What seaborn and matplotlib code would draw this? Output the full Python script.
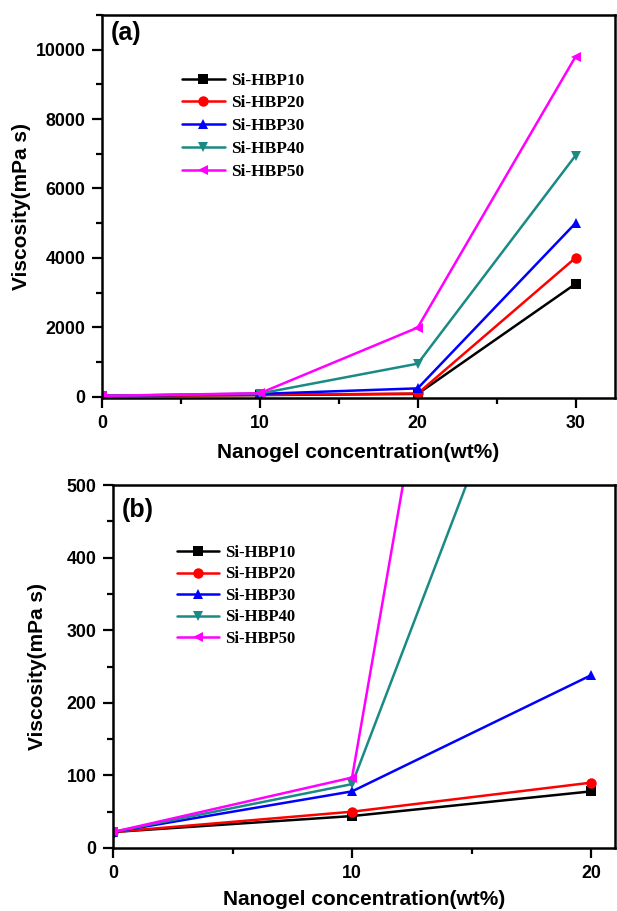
import matplotlib
matplotlib.use("Agg")
import matplotlib.pyplot as plt
import seaborn as sns
import pandas as pd
from matplotlib.ticker import MultipleLocator

# ---- data ----
conc_a = [0, 10, 20, 30]
si_hbp10_a = [22, 44, 78, 3250]
si_hbp20_a = [22, 50, 90, 4000]
si_hbp30_a = [22, 78, 238, 5000]
si_hbp40_a = [22, 88, 950, 6950]
si_hbp50_a = [22, 97, 1990, 9800]

conc_b = [0, 10, 20]
si_hbp10_b = [22, 44, 78]
si_hbp20_b = [22, 50, 90]
si_hbp30_b = [22, 78, 238]
si_hbp40_b = [22, 88, 950]
si_hbp50_b = [22, 97, 1990]

series_names = ["Si-HBP10", "Si-HBP20", "Si-HBP30", "Si-HBP40", "Si-HBP50"]
colors = ["#000000", "#FF0000", "#0000FF", "#1A8A85", "#FF00FF"]
markers = ["s", "o", "^", "v", "<"]


def long_df(x, ys):
    rows = []
    for name, y in zip(series_names, ys):
        for xi, yi in zip(x, y):
            rows.append({"conc": xi, "visc": yi, "series": name})
    return pd.DataFrame(rows)


df_a = long_df(conc_a, [si_hbp10_a, si_hbp20_a, si_hbp30_a, si_hbp40_a, si_hbp50_a])
df_b = long_df(conc_b, [si_hbp10_b, si_hbp20_b, si_hbp30_b, si_hbp40_b, si_hbp50_b])

sns.set_style("ticks")
plt.rcParams["font.family"] = ["Liberation Sans", "DejaVu Sans"]
plt.rcParams.update({
    "text.color": "black",
    "axes.labelcolor": "black",
    "axes.edgecolor": "black",
    "xtick.color": "black",
    "ytick.color": "black",
})

fig = plt.figure(figsize=(6.17, 9.11), dpi=100)
ax_a = fig.add_axes([102 / 617, 1 - 398 / 911, (615 - 102) / 617, (398 - 15) / 911])
ax_b = fig.add_axes([113 / 617, 1 - 848 / 911, (615 - 113) / 617, (848 - 485) / 911])

palette = dict(zip(series_names, colors))
mk = dict(zip(series_names, markers))


def style_axes(ax, df, panel, xlim, ylim, xmaj, xmin, ymaj, ymin, leg_anchor,
               labelspacing, legsize, xlabelpad, ylabelpad, panel_y):
    sns.lineplot(data=df, x="conc", y="visc",
                 hue="series", style="series", palette=palette, markers=mk,
                 dashes=False, markersize=7.5, linewidth=1.8, markeredgewidth=0,
                 ax=ax, legend=True, sort=False)
    ax.set_xlim(*xlim)
    ax.set_ylim(*ylim)
    ax.xaxis.set_major_locator(MultipleLocator(xmaj))
    ax.xaxis.set_minor_locator(MultipleLocator(xmin))
    ax.yaxis.set_major_locator(MultipleLocator(ymaj))
    ax.yaxis.set_minor_locator(MultipleLocator(ymin))
    ax.tick_params(which="major", direction="out", length=7, width=1.6,
                   top=False, right=False, pad=5, colors="black")
    ax.tick_params(which="minor", direction="out", length=4, width=1.6,
                   top=False, right=False, colors="black")
    for lab in ax.get_xticklabels() + ax.get_yticklabels():
        lab.set_fontsize(12.8)
        lab.set_fontweight("bold")
        lab.set_color("black")
    for sp in ax.spines.values():
        sp.set_linewidth(1.8)
        sp.set_visible(True)
        sp.set_color("black")
    ax.set_xlabel("Nanogel concentration(wt%)", fontsize=15, fontweight="bold",
                  labelpad=xlabelpad, color="black")
    ax.set_ylabel("Viscosity(mPa s)", fontsize=15, fontweight="bold",
                  labelpad=ylabelpad, color="black")
    ax.text(0.018, panel_y, panel, transform=ax.transAxes, fontsize=18,
            fontweight="bold", va="top", ha="left", color="black")
    handles, labels = ax.get_legend_handles_labels()
    leg = ax.legend(handles, labels, loc="upper left", bbox_to_anchor=leg_anchor,
                    frameon=False, borderpad=0, borderaxespad=0,
                    handlelength=2.5, handletextpad=0.35, labelspacing=labelspacing,
                    prop={"family": "Liberation Serif", "weight": "bold", "size": legsize})
    for t in leg.get_texts():
        t.set_color("black")


style_axes(ax_a, df_a, "(a)", (0, 32.5), (-40, 11000), 10, 5, 2000, 1000,
           (0.155, 0.85), 0.385, 12.5, 8, 3, 0.985)
style_axes(ax_b, df_b, "(b)", (0, 21), (0, 500), 10, 5, 100, 50,
           (0.128, 0.835), 0.33, 12, 6, 14, 0.965)

fig.savefig("out.png", dpi=100)
